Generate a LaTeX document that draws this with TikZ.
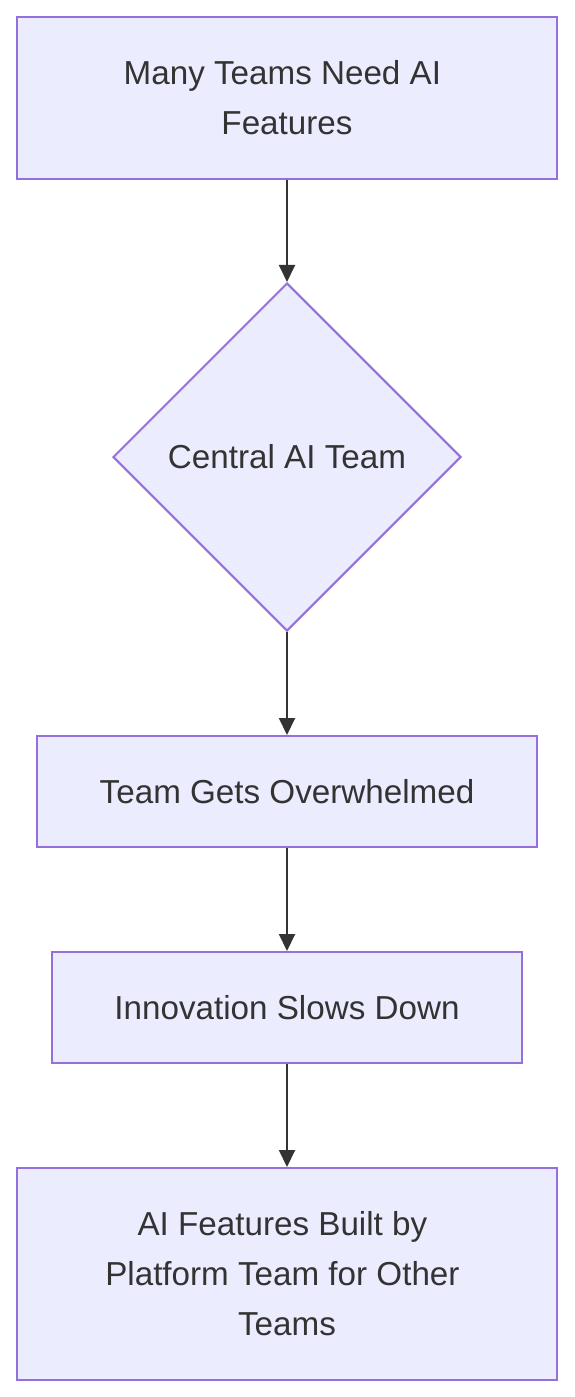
\documentclass[tikz,border=0pt]{standalone}
\usepackage{fontspec}
\setmainfont{Liberation Sans}
\usepackage{xcolor}
\usepackage{tikz}
\usetikzlibrary{shapes.geometric,arrows.meta}
\definecolor{boxfill}{HTML}{ECECFF}
\definecolor{boxline}{HTML}{9370DB}
\definecolor{inkgrey}{HTML}{333333}
\newcommand{\tailsp}{\kern4.6pt}

\begin{document}
\begin{tikzpicture}[x=0.5pt, y=-0.5pt,
    every node/.style={font=\fontsize{16.6}{25}\selectfont, text=inkgrey, align=center},
    stepbox/.style={rectangle, draw=boxline, fill=boxfill, line width=1pt, inner sep=0pt},
    choice/.style={diamond, draw=boxline, fill=boxfill, line width=1pt, inner sep=0pt, minimum width=174pt, minimum height=174pt},
    flow/.style={draw=inkgrey, line width=1pt, -{Triangle[length=8.5pt, width=8pt]}}]
  \useasboundingbox (0,0) rectangle (574,1397);
  % Nodes
  \node[stepbox, minimum width=270pt, minimum height=81pt] (need) at (287,98) {Many Teams Need AI\tailsp\\Features};
  \node[choice] (central) at (287,457) {Central AI Team};
  \node[stepbox, minimum width=250pt, minimum height=55.5pt] (overwhelmed) at (287,791.5) {Team Gets Overwhelmed};
  \node[stepbox, minimum width=235pt, minimum height=55.5pt] (slows) at (287,1007.5) {Innovation Slows Down};
  \node[stepbox, minimum width=270pt, minimum height=106pt] (platform) at (287,1274) {AI Features Built by\tailsp\\Platform Team for Other\tailsp\\Teams};
  % Edges
  \foreach \source/\target in {need/central, central/overwhelmed, overwhelmed/slows, slows/platform} {
    \draw[flow] (\source) -- (\target);
  }
\end{tikzpicture}
\end{document}
